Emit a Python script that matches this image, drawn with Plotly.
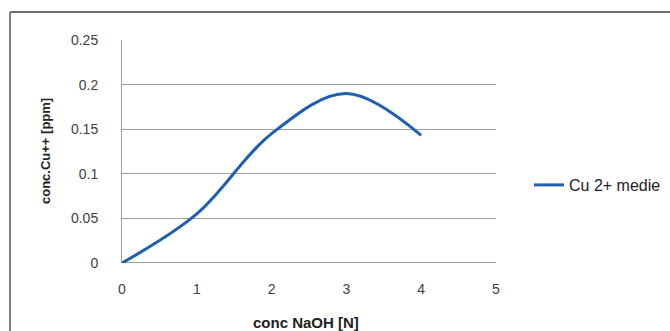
import plotly.graph_objects as go

conc_naoh = [0, 1, 2, 3, 4]
cu_medie = [0.0, 0.055, 0.145, 0.19, 0.143]
series_name = "Cu 2+ medie"
x_title = "conc NaOH [N]"
y_title = "conc.Cu++ [ppm]"

W, H = 670, 331
L, R, T, B = 122, 174, 40, 68
pw, ph = W - L - R, H - T - B

fig = go.Figure()
fig.add_trace(go.Scatter(
    x=conc_naoh, y=cu_medie, mode="lines", name=series_name,
    line=dict(color="#1f5fad", width=3, shape="spline", smoothing=1.0),
))

def px_to_paper_x(px):
    return (px - L) / pw

def px_to_paper_y(py):
    return (H - B - py) / ph

shapes = [
    dict(type="line", xref="paper", yref="paper",
         x0=px_to_paper_x(10), x1=px_to_paper_x(700),
         y0=px_to_paper_y(12), y1=px_to_paper_y(12),
         line=dict(color="#707070", width=2)),
    dict(type="line", xref="paper", yref="paper",
         x0=px_to_paper_x(10), x1=px_to_paper_x(10),
         y0=px_to_paper_y(12), y1=px_to_paper_y(360),
         line=dict(color="#808080", width=2)),
]

annotations = [
    dict(text="<b>" + x_title + "</b>", xref="paper", yref="paper",
         x=px_to_paper_x(306), y=px_to_paper_y(322), xanchor="center", yanchor="middle",
         showarrow=False, font=dict(size=15, color="#222222")),
    dict(text="<b>" + y_title + "</b>", xref="paper", yref="paper",
         x=px_to_paper_x(45), y=px_to_paper_y(151), xanchor="center", yanchor="middle",
         textangle=-90, showarrow=False, font=dict(size=13, color="#222222")),
]

font = "Liberation Sans, Arial, sans-serif"
tick_font = dict(family=font, size=14, color="#404040")
fig.update_layout(
    width=W, height=H,
    margin=dict(l=L, r=R, t=T, b=B, autoexpand=False),
    paper_bgcolor="white", plot_bgcolor="white",
    font=dict(family=font, size=13, color="#404040"),
    showlegend=True,
    legend=dict(x=px_to_paper_x(529), y=px_to_paper_y(185), xanchor="left", yanchor="middle",
                font=dict(size=16, color="#222222"), bgcolor="rgba(0,0,0,0)"),
    shapes=shapes,
    annotations=annotations,
    xaxis=dict(range=[0, 5], tickvals=[0, 1, 2, 3, 4, 5], showgrid=False, zeroline=False,
               showline=False, ticks="", ticklabelstandoff=16, automargin=False,
               tickfont=tick_font),
    yaxis=dict(range=[0, 0.25], tickvals=[0, 0.05, 0.1, 0.15, 0.2, 0.25],
               ticktext=["0", "0.05", "0.1", "0.15", "0.2", "0.25"],
               showgrid=True, gridcolor="#a0a0a0", gridwidth=1, zeroline=False,
               showline=True, linecolor="#a0a0a0", linewidth=1, ticks="", ticklabelstandoff=20,
               automargin=False, tickfont=tick_font),
)
fig.add_hline(y=0, line=dict(color="#a0a0a0", width=2), layer="below")
fig.write_html("out.html")
